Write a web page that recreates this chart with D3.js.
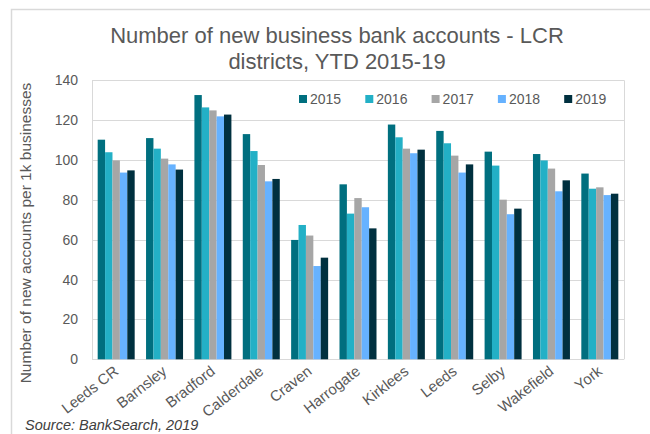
<!DOCTYPE html>
<html><head><meta charset="utf-8">
<script src="https://cdn.jsdelivr.net/npm/d3@7"></script>
<style>
html,body{margin:0;padding:0;background:#fff;}
svg{display:block;font-family:"Liberation Sans",Arial,sans-serif;}
</style></head>
<body><svg id="c" width="650" height="434"></svg>
<script>
const districts = ["Leeds CR","Barnsley","Bradford","Calderdale","Craven","Harrogate","Kirklees","Leeds","Selby","Wakefield","York"];
const years = ["2015","2016","2017","2018","2019"];
const v2015 = [110.2,111.0,132.6,113.0,59.9,87.8,117.8,114.6,104.2,103.0,93.2];
const v2016 = [103.9,105.7,126.4,104.5,67.4,73.1,111.4,108.4,97.2,99.8,85.6];
const v2017 = [99.8,100.7,124.9,97.5,62.1,80.9,105.7,102.2,80.1,95.7,86.3];
const v2018 = [93.7,97.8,121.9,89.3,46.8,76.3,103.4,93.7,72.8,84.3,82.4];
const v2019 = [94.8,95.2,122.8,90.5,51.0,65.7,105.2,97.8,75.6,89.8,83.1];
const seriesValues = [v2015,v2016,v2017,v2018,v2019];
const yTicks = [0,20,40,60,80,100,120,140];
const colors = ["#006f7f","#23b0c6","#a6a6a6","#66b2ff","#00303f"];

const svg = d3.select("#c");
const L = 92, R = 624, T = 80.3, B = 359.3;

// outer frame
svg.append("path").attr("d","M11.5,434 V9.5 H650").attr("fill","none").attr("stroke","#d9d9d9").attr("stroke-width",1.5);

const x0 = d3.scaleBand().domain(districts).range([L,R]).paddingInner(0.235).paddingOuter(0.1175);
const x1 = d3.scaleBand().domain(years).range([0,x0.bandwidth()]);
const y = d3.scaleLinear().domain([0,140]).range([B,T]);

// gridlines
svg.append("g").selectAll("line").data(yTicks).join("line")
  .attr("x1",L).attr("x2",R).attr("y1",d=>Math.round(y(d))+0.5).attr("y2",d=>Math.round(y(d))+0.5)
  .attr("stroke","#d9d9d9").attr("stroke-width",1);
// plot border sides
svg.append("line").attr("x1",L+0.5).attr("x2",L+0.5).attr("y1",T).attr("y2",B).attr("stroke","#d9d9d9");
svg.append("line").attr("x1",R+0.5).attr("x2",R+0.5).attr("y1",T).attr("y2",B).attr("stroke","#d9d9d9");

// y axis
const yAxis = d3.axisLeft(y).tickValues(yTicks).tickSize(0).tickPadding(14);
const ga = svg.append("g").attr("transform",`translate(${L},0)`).call(yAxis);
ga.select(".domain").remove();
ga.selectAll("text").attr("fill","#595959").attr("font-size","14px").attr("font-family","Liberation Sans, Arial, sans-serif");

// bars
const groups = svg.append("g").selectAll("g").data(districts).join("g")
  .attr("transform",d=>`translate(${x0(d)},0)`);
groups.selectAll("rect").data((d,i)=>years.map((yr,j)=>({yr,v:seriesValues[j][i],j}))).join("rect")
  .attr("x",d=>x1(d.yr)).attr("width",x1.bandwidth())
  .attr("y",d=>y(d.v)).attr("height",d=>B-y(d.v))
  .attr("fill",d=>colors[d.j]);

// x labels
svg.append("g").selectAll("text").data(districts).join("text")
  .attr("transform",d=>`translate(${x0(d)+x0.bandwidth()/2},369) rotate(-38)`)
  .attr("text-anchor","end").attr("dy","0.35em")
  .attr("font-size","15px").attr("fill","#595959").text(d=>d);

// legend
const lg = svg.append("g").selectAll("g").data(years).join("g")
  .attr("transform",(d,i)=>`translate(${299+i*66.3},99)`);
lg.append("rect").attr("x",0).attr("y",-4).attr("width",8).attr("height",8).attr("fill",(d,i)=>colors[i]);
lg.append("text").attr("x",11).attr("y",0).attr("dy","0.35em").attr("font-size","14px").attr("fill","#595959").text(d=>d);

// title
const title = svg.append("text").attr("text-anchor","middle").attr("font-size","22px").attr("fill","#595959");
title.append("tspan").attr("x",337).attr("y",43).text("Number of new business bank accounts - LCR");
title.append("tspan").attr("x",337).attr("y",69).text("districts, YTD 2015-19");

// y label
svg.append("text").attr("transform","translate(31,233) rotate(-90)").attr("text-anchor","middle")
  .attr("font-size","15.5px").attr("fill","#595959").text("Number of new accounts per 1k businesses");

// source
svg.append("text").attr("x",25).attr("y",430).attr("font-size","14.5px").attr("font-style","italic")
  .attr("fill","#404040").text("Source: BankSearch, 2019");
</script></body></html>
